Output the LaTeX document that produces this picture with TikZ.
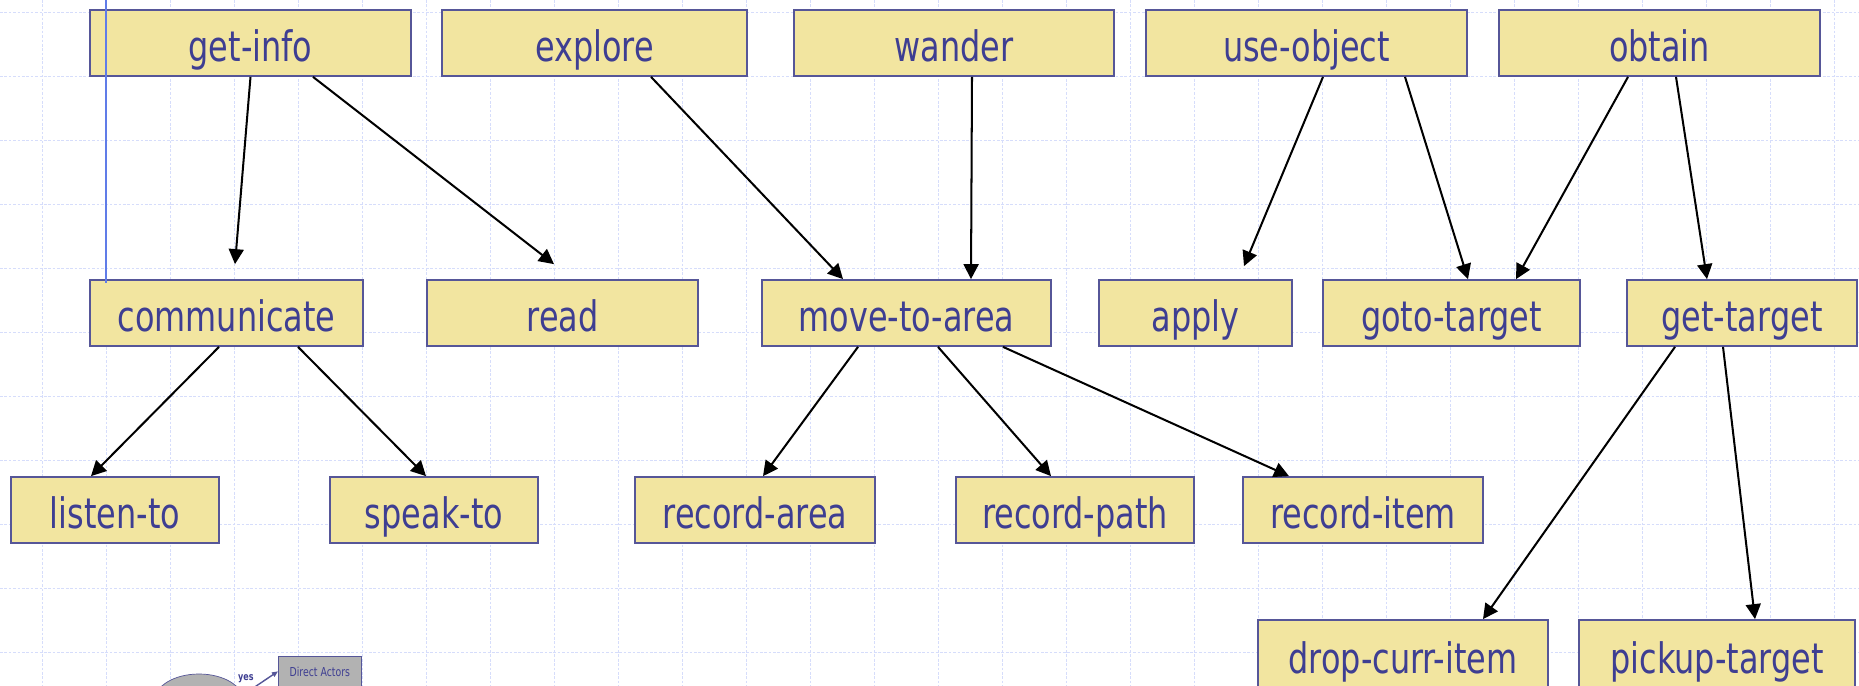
\documentclass[tikz,border=0pt]{standalone}
\usepackage{fontspec}
\usepackage{tikz}
\usetikzlibrary{arrows.meta,calc,shapes.geometric}
\newfontfamily\boxfont[FakeStretch=0.76]{DejaVu Sans}
\definecolor{boxfill}{RGB}{242,229,160}
\definecolor{boxline}{RGB}{86,86,152}
\definecolor{boxtext}{RGB}{62,62,146}
\definecolor{gridblue}{RGB}{214,221,251}
\definecolor{markblue}{RGB}{96,124,232}
\definecolor{minigray}{RGB}{178,178,178}
\tikzset{
	task/.style={draw=boxline, line width=1pt, fill=boxfill, text=boxtext,
		inner sep=0pt, minimum width=#1*0.02cm, minimum height=1.32cm,
		text height=23pt, text depth=1.5pt,
		font=\boxfont\fontsize{23.9pt}{28pt}\selectfont},
	link/.style={line width=1.15pt, -{Triangle[length=0.3cm,width=0.3cm]}},
	gridline/.style={gridblue, line width=0.5pt, dash pattern=on 1.5pt off 1pt},
	minibox/.style={draw=boxline, fill=minigray, text=boxtext, inner sep=0pt,
		font=\boxfont\fontsize{7pt}{8pt}\selectfont},
}
\newcommand\backdrop[0]{
	% grid
	\foreach \x in {42,106,...,1858} {
		\draw[gridline] (\x,0) -- (\x,686);
	}
	\foreach \y in {12,76,...,652} {
		\draw[gridline] (0,\y) -- (1859,\y);
	}
}

\begin{document}
\begin{tikzpicture}[x=0.02cm, y=-0.02cm]
	\useasboundingbox (0,0) rectangle (1859,686);
	\clip (0,0) rectangle (1859,686);
	\fill[white] (0,0) rectangle (1859,686);
	\backdrop

	% top row
	\node[task=321] (getinfo)   at (250.5,43) {get-info};
	\node[task=305] (explore)   at (594.5,43) {explore};
	\node[task=320] (wander)    at (954,43)   {wander};
	\node[task=321] (useobject) at (1306.5,43) {use-object};
	\node[task=321] (obtain)    at (1659.5,43) {obtain};

	% second row
	\node[task=273] (communicate) at (226.5,313) {communicate};
	\node[task=271] (read)        at (562.5,313) {read};
	\node[task=289] (movetoarea)  at (906.5,313) {move-to-area};
	\node[task=193] (apply)       at (1195.5,313) {apply};
	\node[task=257] (gototarget)  at (1451.5,313) {goto-target};
	\node[task=230] (gettarget)   at (1742,313)  {get-target};

	% third row
	\node[task=208] (listento)   at (115,510)  {listen-to};
	\node[task=208] (speakto)    at (434,510)  {speak-to};
	\node[task=240] (recordarea) at (755,510)  {record-area};
	\node[task=238] (recordpath) at (1075,510) {record-path};
	\node[task=240] (recorditem) at (1363,510) {record-item};

	% bottom row
	\node[task=290, minimum height=1.4cm] (dropcurritem) at (1403,655) {drop-curr-item};
	\node[task=276, minimum height=1.4cm] (pickuptarget) at (1717,655) {pickup-target};

	% decomposition links
	\foreach \a/\sa/\b/\tx/\ty in {
		getinfo/0/communicate/8.5/-15, getinfo/62.5/read/-8.5/-15,
		explore/56.5/movetoarea/-63.5/0, wander/18/movetoarea/64.5/0,
		useobject/16.5/apply/48.5/-13, useobject/98.5/gototarget/16.5/0,
		obtain/-31.5/gototarget/64.5/0, obtain/16.5/gettarget/-35/0,
		communicate/-7.5/listento/-24/0, communicate/71.5/speakto/-8/0,
		movetoarea/-48.5/recordarea/8/0, movetoarea/31.5/recordpath/-24/0,
		movetoarea/96.5/recorditem/-74/0,
		gettarget/-67/dropcurritem/80/0, gettarget/-19/pickuptarget/38/0} {
		\draw[link] ($(\a.south)+(\sa,0)$) -- ($(\b.north)+(\tx,\ty)$);
	}

	% marker line
	\draw[markblue, line width=1pt] (106,0) -- (106,283);

	% corner of the next figure
	\node[ellipse, draw=boxline, fill=minigray, minimum width=1.76cm, minimum height=1.04cm] (blob) at (199,700) {};
	\node[minibox, minimum width=1.66cm, minimum height=0.8cm, anchor=north west] (actors) at (278,656) {\raisebox{0.7em}{Direct Actors}};
	\draw[boxline, line width=0.8pt, -{Triangle[length=0.12cm,width=0.1cm]}] ($(blob.east)+(-8,0)$) -- node[above left=-2pt, text=boxtext, font=\boxfont\bfseries\fontsize{6pt}{7pt}\selectfont] {yes} ($(actors.west)+(0,-5)$);
\end{tikzpicture}
\end{document}
